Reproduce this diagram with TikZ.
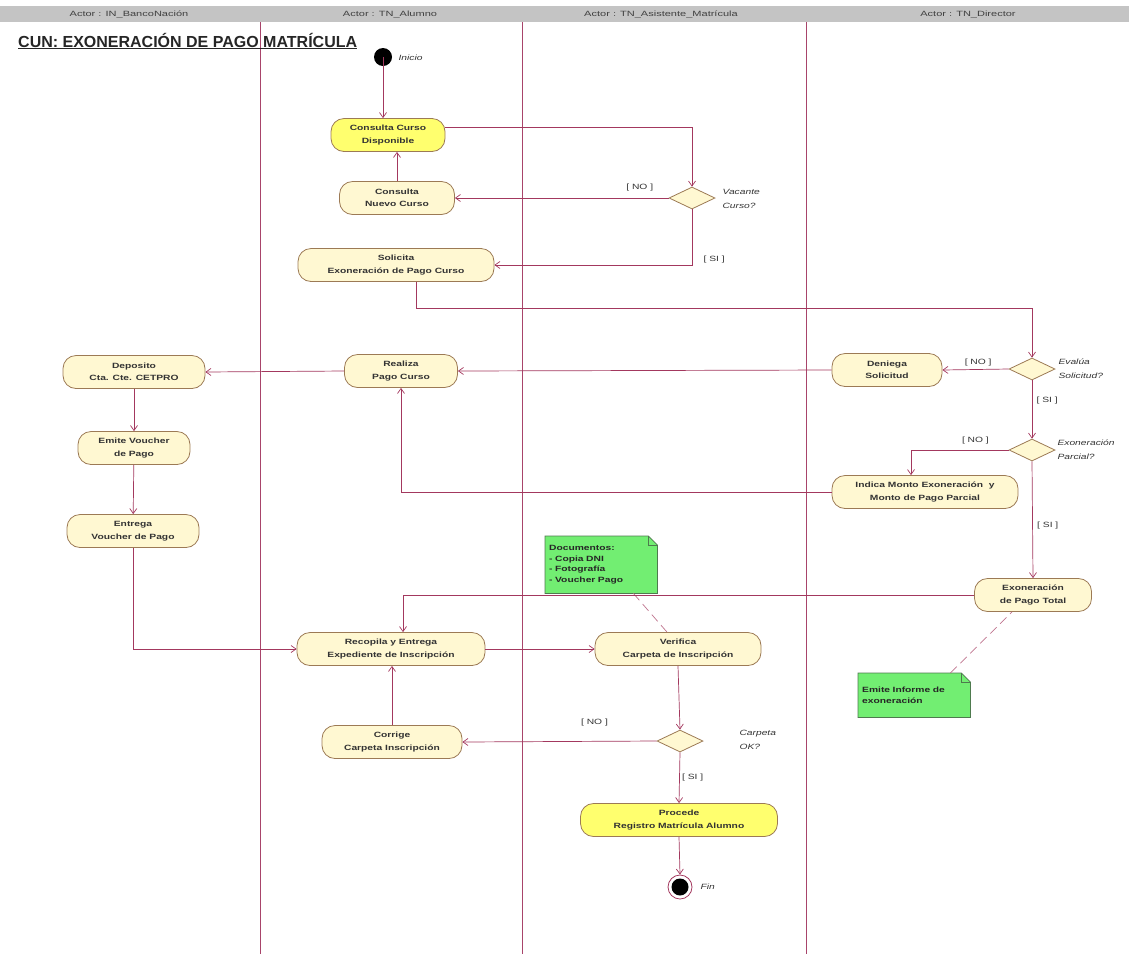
\documentclass[tikz,border=0pt]{standalone}
\usepackage{fontspec}
\setmainfont{Liberation Sans}
\newfontfamily\diagfam[FakeStretch=1.35]{Liberation Sans}
\newfontfamily\headfam[FakeStretch=1.45]{Liberation Sans}
\usetikzlibrary{arrows.meta,shapes.geometric,backgrounds}

\definecolor{lanec}{HTML}{A8446A}
\definecolor{flowc}{HTML}{A3385E}
\definecolor{actbd}{HTML}{9C7A55}
\definecolor{actfill}{HTML}{FFF8D2}
\definecolor{actyel}{HTML}{FFFF6E}
\definecolor{notefill}{HTML}{72EE72}
\definecolor{notebd}{HTML}{4E7A4E}
\definecolor{headgray}{HTML}{C4C4C4}

\newcommand{\actfont}{\diagfam\bfseries\fontsize{7.6}{12.5}\selectfont}
\newcommand{\lblfont}{\diagfam\fontsize{7.6}{14}\selectfont}

\tikzset{
  act/.style={draw=actbd, fill=actfill, line width=0.8pt, rounded corners=13pt,
    minimum height=33pt, align=center, font=\actfont, text=black!80, inner sep=1pt},
  acthi/.style={act, fill=actyel},
  decision/.style={diamond, draw=actbd, fill=actfill, line width=0.8pt,
    minimum width=46pt, minimum height=22pt, inner sep=0pt},
  flow/.style={draw=flowc, line width=0.7pt, -{Straight Barb[length=5pt,width=7pt]}},
  guard/.style={font=\lblfont, text=black!80},
  decname/.style={font=\lblfont\itshape, text=black!80, align=left, anchor=west},
  notebox/.style={align=left, font=\actfont, text=black!85, inner sep=3pt, anchor=north west},
  noteline/.style={draw=flowc!70, line width=0.7pt, dash pattern=on 9pt off 5pt},
  lane/.style={draw=lanec, line width=0.8pt},
  headtxt/.style={font=\headfam\fontsize{7.6}{9}\selectfont, text=black!75}
}

\begin{document}
\begin{tikzpicture}[x=1pt,y=-1pt]
\useasboundingbox (0,0) rectangle (1129,954);

% swimlane header and separators
\fill[headgray] (0,6) rectangle (1129,22);
\node[headtxt] (h1) at (129,14) {Actor :  IN\_BancoNación};
\node[headtxt] (h2) at (390,14) {Actor :  TN\_Alumno};
\node[headtxt] (h3) at (661,14) {Actor :  TN\_Asistente\_Matrícula};
\node[headtxt] (h4) at (968,14) {Actor :  TN\_Director};
\draw[lane] (260,22) -- (260,954);
\draw[lane] (522,22) -- (522,954);
\draw[lane] (806,22) -- (806,954);

% title
\node[anchor=west, font=\fontsize{16}{18}\selectfont\bfseries, text=black!85, inner sep=0pt] (title) at (18,41)
  {\underline{CUN: EXONERACIÓN DE PAGO MATRÍCULA}};

% initial state
\fill[black] (383,57) circle (9);
\coordinate (start) at (383,57);
\node[anchor=west, font=\lblfont\itshape, text=black!80] (ini) at (395,58) {Inicio};

% activities
\node[acthi, minimum width=114pt] (ccd) at (388,135) {Consulta Curso\\Disponible};
\node[act, minimum width=115pt] (cnc) at (397,198) {Consulta\\Nuevo Curso};
\node[act, minimum width=196pt] (sol) at (396,265) {Solicita\\Exoneración de Pago Curso};
\node[act, minimum width=110pt] (den) at (887,370) {Deniega\\Solicitud};
\node[act, minimum width=113pt] (rea) at (401,371) {Realiza\\Pago Curso};
\node[act, minimum width=142pt] (dep) at (134,372) {Deposito\\Cta. Cte. CETPRO};
\node[act, minimum width=112pt] (emv) at (134,448) {Emite Voucher\\de Pago};
\node[act, minimum width=132pt] (ent) at (133,531) {Entrega\\Voucher de Pago};
\node[act, minimum width=186pt] (ind) at (925,492) {Indica Monto Exoneración~ y\\Monto de Pago Parcial};
\node[act, minimum width=117pt] (ext) at (1033,595) {Exoneración\\de Pago Total};
\node[act, minimum width=188pt] (rec) at (391,649) {Recopila y Entrega\\Expediente de Inscripción};
\node[act, minimum width=166pt] (ver) at (678,649) {Verifica\\Carpeta de Inscripción};
\node[act, minimum width=140pt] (cor) at (392,742) {Corrige\\Carpeta Inscripción};
\node[acthi, minimum width=197pt] (pro) at (679,820) {Procede\\Registro Matrícula Alumno};

% decisions
\node[decision] (vac) at (692,198) {};
\node[decision] (eval) at (1032,369) {};
\node[decision] (exp) at (1032,450) {};
\node[decision] (car) at (680,741) {};
\node[decname] (vacl) at (719,199) {Vacante\\Curso?};
\node[decname] (evall) at (1055,369) {Evalúa\\Solicitud?};
\node[decname] (expl) at (1054,450) {Exoneración\\Parcial?};
\node[decname] (carl) at (736,740) {Carpeta\\OK?};

% final state
\node[circle, draw=flowc, line width=0.8pt, fill=white, minimum size=24pt, inner sep=0pt] (fin) at (680,887) {};
\fill[black] (fin.center) circle (8.5);
\node[anchor=west, font=\lblfont\itshape, text=black!80] (finl) at (697,887) {Fin};

% notes
\node[notebox, minimum width=112pt, minimum height=57pt, text width=104pt] (n1) at (545,536)
  {Documentos:\\[-2pt]- Copia DNI\\[-2pt]- Fotografía\\[-2pt]- Voucher Pago};
\node[notebox, minimum width=112pt, minimum height=44pt, text width=104pt] (n2) at (858,673)
  {Emite Informe de\\[-1pt]exoneración};
\begin{scope}[on background layer]
  \foreach \n in {n1,n2}{
    \draw[fill=notefill, draw=notebd, line width=0.8pt]
      (\n.north west) -- ([xshift=-9pt]\n.north east) -- ([yshift=-9pt]\n.north east)
      -- (\n.south east) -- (\n.south west) -- cycle;
    \draw[notebd, line width=0.6pt]
      ([xshift=-9pt]\n.north east) -- ([xshift=-9pt,yshift=-9pt]\n.north east)
      -- ([yshift=-9pt]\n.north east);
  }
\end{scope}
\draw[noteline] ([xshift=-24pt]n1.south east) -- ([xshift=-11pt]ver.north);
\draw[noteline] ([xshift=-20pt]n2.north east) -- ([xshift=-21pt]ext.south);

% control flow
\draw[flow] (start) -- (start |- ccd.north);
\draw[flow] ([yshift=8pt]ccd.east) -| (vac.north);
\draw[flow] (vac.west) -- node[guard, above, pos=0.135, yshift=3pt] {[ NO ]} (cnc.east);
\draw[flow] (cnc.north) -- (cnc.north |- ccd.south);
\draw[flow] (vac.south) |- node[guard, pos=0.45, right, xshift=8pt] {[ SI ]} (sol.east);
\draw[flow] ([xshift=20pt]sol.south) -- ++(0,26) -| (eval.north);
\draw[flow] (eval.west) -- node[guard, above, pos=0.46] {[ NO ]} (den.east);
\draw[flow] (den.west) -- (rea.east);
\draw[flow] (rea.west) -- (dep.east);
\draw[flow] (dep) -- (emv);
\draw[flow] (emv) -- (ent);
\draw[flow] (eval.south) -- node[guard, right, pos=0.35, xshift=1pt] {[ SI ]} (exp.north);
\draw[flow] (exp.west) -| node[guard, above, pos=0.17, yshift=2pt] {[ NO ]} ([xshift=-14pt]ind.north);
\draw[flow] (ind.west) -| (rea.south);
\draw[flow] (exp.south) -- node[guard, right, pos=0.55, xshift=1pt] {[ SI ]} (ext.north);
\draw[flow] (ent.south) |- (rec.west);
\draw[flow] (ext.west) -| ([xshift=12pt]rec.north);
\draw[flow] (rec.east) -- (ver.west);
\draw[flow] (ver.south) -- (car.north);
\draw[flow] (car.west) -- node[guard, above, pos=0.32, yshift=12pt] {[ NO ]} (cor.east);
\draw[flow] (cor.north) -- (cor.north |- rec.south);
\draw[flow] (car.south) -- node[guard, right, pos=0.5, xshift=-1pt] {[ SI ]} (pro.north);
\draw[flow] (pro.south) -- (fin.north);
\end{tikzpicture}
\end{document}
